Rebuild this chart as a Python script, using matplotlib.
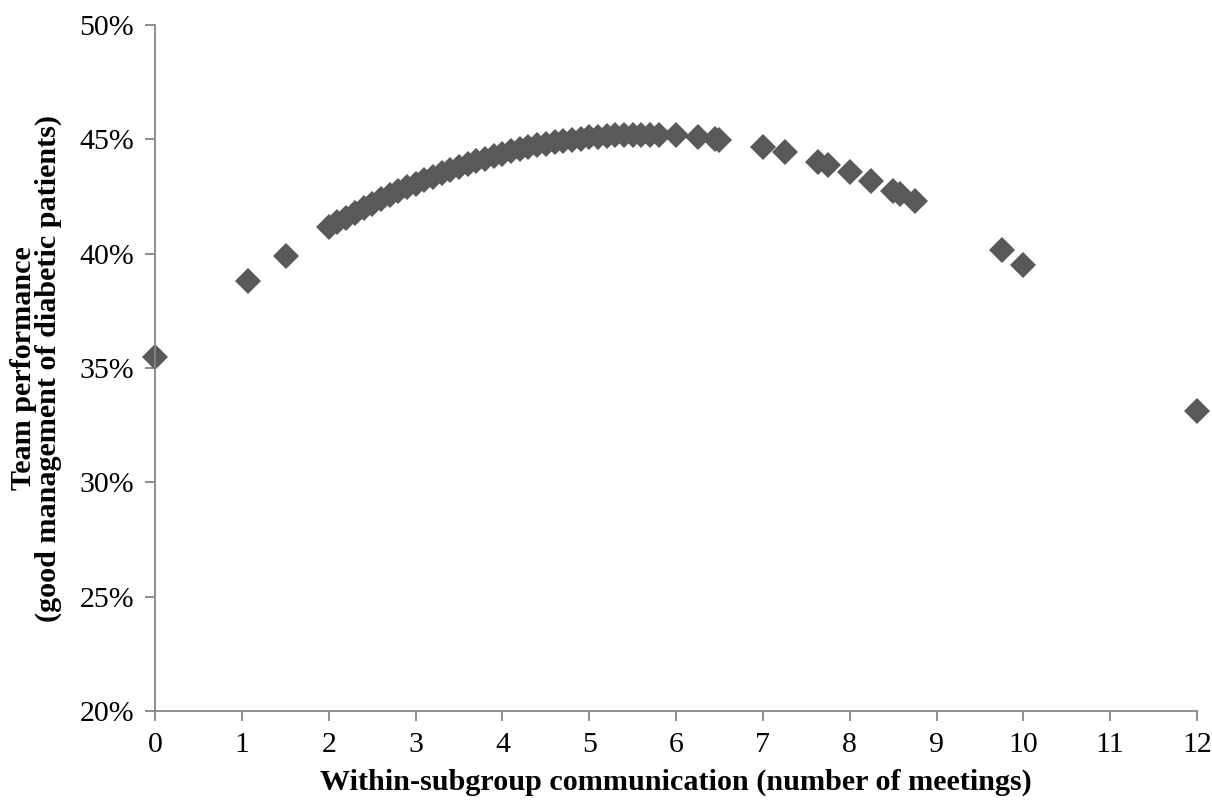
import matplotlib.pyplot as plt
from matplotlib.ticker import FuncFormatter

# ---- data (x = meetings, y = % good management) ----
meetings = [0.0, 1.07, 1.51,
            2.0, 2.1, 2.2, 2.3, 2.4, 2.5, 2.6, 2.7, 2.8, 2.9,
            3.0, 3.1, 3.2, 3.3, 3.4, 3.5, 3.6, 3.7, 3.8, 3.9,
            4.0, 4.1, 4.2, 4.3, 4.4, 4.5, 4.6, 4.7, 4.8, 4.9,
            5.0, 5.1, 5.2, 5.3, 5.4, 5.5, 5.6, 5.7, 5.8,
            6.0, 6.25, 6.45, 6.5, 7.0, 7.25, 7.63, 7.75, 8.0,
            8.25, 8.5, 8.58, 8.75, 9.75, 10.0, 12.0]
performance = [35.5, 38.8, 39.9,
               41.15, 41.37, 41.58, 41.79, 41.99, 42.18, 42.37, 42.55, 42.73, 42.90,
               43.06, 43.22, 43.37, 43.52, 43.66, 43.79, 43.92, 44.04, 44.16, 44.27,
               44.37, 44.47, 44.56, 44.65, 44.73, 44.80, 44.87, 44.93, 44.98, 45.03,
               45.08, 45.11, 45.14, 45.17, 45.19, 45.20, 45.21, 45.21, 45.20,
               45.17, 45.10, 45.02, 44.99, 44.66, 44.44, 44.03, 43.88, 43.55,
               43.18, 42.76, 42.62, 42.31, 40.14, 39.5, 33.1]

x_ticks = list(range(0, 13))
y_ticks = [20, 25, 30, 35, 40, 45, 50]

plt.rcParams['font.family'] = ['Liberation Serif', 'DejaVu Serif']

fig = plt.figure(figsize=(12.12, 8.01), dpi=100)
ax = fig.add_axes([0.128, 0.1124, 0.8596, 0.8564])

ax.plot(meetings, performance, linestyle='none', marker='D',
        markersize=13.5, color='#595959', markeredgewidth=0, clip_on=False)

ax.set_xlim(0, 12)
ax.set_ylim(20, 50)
ax.set_xticks(x_ticks)
ax.set_yticks(y_ticks)
ax.yaxis.set_major_formatter(FuncFormatter(lambda v, p: f"{v:.0f}%"))

for side in ['top', 'right']:
    ax.spines[side].set_visible(False)
for side in ['left', 'bottom']:
    ax.spines[side].set_color('#868686')
    ax.spines[side].set_linewidth(1.3)

ax.tick_params(axis='both', direction='out', length=7, width=1.3,
               color='#868686', labelsize=21.5, labelcolor='black')
ax.tick_params(axis='x', pad=8)
ax.tick_params(axis='y', pad=8)

# axis titles placed where they sit in the original
fig.text(676 / 1212, 1 - 782 / 801,
         'Within-subgroup communication (number of meetings)',
         fontsize=21.7, fontweight='bold', ha='center', va='center')
fig.text(36 / 1212, 1 - 368 / 801,
         'Team performance\n(good management of diabetic patients)',
         fontsize=21.7, fontweight='bold', ha='center', va='center',
         rotation=90, multialignment='center', linespacing=0.92)

fig.savefig('out.png', dpi=100)
